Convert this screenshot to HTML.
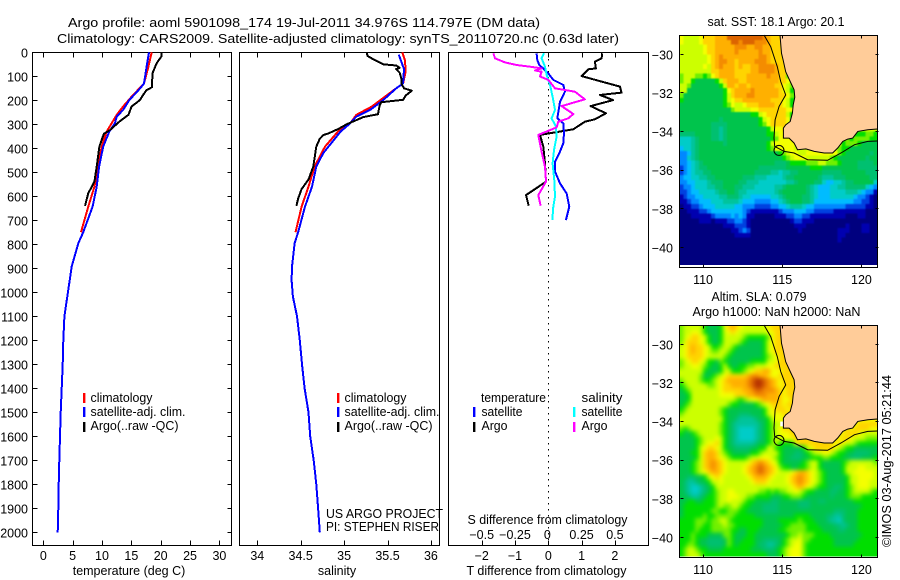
<!DOCTYPE html>
<html lang="en">
<head>
<meta charset="utf-8">
<title>Argo profile 5901098_174</title>
<style>
html,body{margin:0;padding:0;background:#fff;}
svg{display:block;}
text{font-family:"Liberation Sans",sans-serif;font-size:12.5px;fill:#000;}
.frame{fill:none;stroke:#000;stroke-width:1;shape-rendering:crispEdges;}
.tick{stroke:#000;stroke-width:1;shape-rendering:crispEdges;}
.prof{fill:none;stroke-width:2;shape-rendering:crispEdges;stroke-linejoin:round;}
.mid{text-anchor:middle;}
.end{text-anchor:end;}
</style>
</head>
<body>
<svg id="chart" xmlns="http://www.w3.org/2000/svg" width="900" height="580" viewBox="0 0 900 580">
  <defs>
    <filter id="blurSst" filterUnits="userSpaceOnUse" x="660" y="20" width="240" height="270" color-interpolation-filters="sRGB"><feGaussianBlur stdDeviation="0.7"/></filter>
    <filter id="blurSla" filterUnits="userSpaceOnUse" x="660" y="310" width="240" height="270" color-interpolation-filters="sRGB"><feGaussianBlur stdDeviation="2"/></filter>
    <clipPath id="clipSst"><rect x="679.5" y="35.5" width="198" height="231"/></clipPath>
    <clipPath id="clipSla"><rect x="679.5" y="325.5" width="198" height="231"/></clipPath>
  </defs>
  <rect x="0" y="0" width="900" height="580" fill="#fff"/>
  <text x="68" y="27" textLength="472" lengthAdjust="spacingAndGlyphs">Argo profile: aoml 5901098_174 19-Jul-2011 34.976S 114.797E (DM data)</text>
  <text x="57" y="43" textLength="562" lengthAdjust="spacingAndGlyphs">Climatology: CARS2009. Satellite-adjusted climatology: synTS_20110720.nc (0.63d later)</text>

  <g id="mapLayer1"></g>
  <g id="mapLayer2"></g>
  <g id="p1"></g>
  <g id="p2"></g>
  <g id="p3"></g>

  <rect x="83" y="393" width="2.4" height="10" fill="#f00"/>
  <rect x="83" y="407" width="2.4" height="10" fill="#00f"/>
  <rect x="83" y="422" width="2.4" height="10" fill="#000"/>
  <text x="90.5" y="402" textLength="62" lengthAdjust="spacingAndGlyphs">climatology</text>
  <text x="90.5" y="416" textLength="95" lengthAdjust="spacingAndGlyphs">satellite-adj. clim.</text>
  <text x="90.5" y="430" textLength="88" lengthAdjust="spacingAndGlyphs">Argo(..raw -QC)</text>

  <rect x="337" y="393" width="2.4" height="10" fill="#f00"/>
  <rect x="337" y="407" width="2.4" height="10" fill="#00f"/>
  <rect x="337" y="422" width="2.4" height="10" fill="#000"/>
  <text x="344.5" y="402" textLength="62" lengthAdjust="spacingAndGlyphs">climatology</text>
  <text x="344.5" y="416" textLength="95" lengthAdjust="spacingAndGlyphs">satellite-adj. clim.</text>
  <text x="344.5" y="430" textLength="88" lengthAdjust="spacingAndGlyphs">Argo(..raw -QC)</text>

  <text x="326" y="518" textLength="117" lengthAdjust="spacingAndGlyphs">US ARGO PROJECT</text>
  <text x="326" y="531" textLength="113" lengthAdjust="spacingAndGlyphs">PI: STEPHEN RISER</text>

  <text x="481" y="402" textLength="65" lengthAdjust="spacingAndGlyphs">temperature</text>
  <text x="581.5" y="402" textLength="41" lengthAdjust="spacingAndGlyphs">salinity</text>
  <rect x="473" y="407" width="2.4" height="10" fill="#00f"/>
  <rect x="473" y="422" width="2.4" height="10" fill="#000"/>
  <rect x="573" y="407" width="2.4" height="10" fill="#0ff"/>
  <rect x="573" y="422" width="2.4" height="10" fill="#f0f"/>
  <text x="481.5" y="416" textLength="41" lengthAdjust="spacingAndGlyphs">satellite</text>
  <text x="481.5" y="430" textLength="26" lengthAdjust="spacingAndGlyphs">Argo</text>
  <text x="581.5" y="416" textLength="41" lengthAdjust="spacingAndGlyphs">satellite</text>
  <text x="581.5" y="430" textLength="26" lengthAdjust="spacingAndGlyphs">Argo</text>

  <text x="467.5" y="524" textLength="160" lengthAdjust="spacingAndGlyphs">S difference from climatology</text>
  <text x="129" y="575" class="mid">temperature (deg C)</text>
  <text x="337" y="575" class="mid">salinity</text>
  <text x="466.5" y="575" textLength="160" lengthAdjust="spacingAndGlyphs">T difference from climatology</text>

  <text x="707.5" y="26" textLength="137" lengthAdjust="spacingAndGlyphs">sat. SST: 18.1 Argo: 20.1</text>
  <text x="711.5" y="301" textLength="95" lengthAdjust="spacingAndGlyphs">Altim. SLA: 0.079</text>
  <text x="692.5" y="316" textLength="168" lengthAdjust="spacingAndGlyphs">Argo h1000: NaN h2000: NaN</text>
  <text transform="translate(891,547) rotate(-90)" textLength="172" lengthAdjust="spacingAndGlyphs">©IMOS 03-Aug-2017 05:21:44</text>
</svg>

<script>
// ---------- profile chart data ----------
const depthTicks = [0,100,200,300,400,500,600,700,800,900,1000,1100,1200,1300,1400,1500,1600,1700,1800,1900,2000];
const tempTicks = [0,5,10,15,20,25,30];
const salTicks = [34,34.5,35,35.5,36];
const tDiffTicks = [-2,-1,0,1,2];
const sDiffTicks = [-0.5,-0.25,0,0.25,0.5];
const sDiffLabels = ["−0.5","−0.25","0","0.25","0.5"];
const lonTicks = [110,115,120];
const latTicks = [-30,-32,-34,-36,-38,-40];

const tempClimDepth = [0,60,130,185,226,261,330,393,476,560,643,750];
const tempClimValue = [18.46,17.9,17.15,15.05,13.6,12.5,10.8,9.95,9.37,8.7,7.67,6.42];
const tempSatDepth = [0,60,130,150,199,240,268,296,330,393,476,560,643,750,796,893,1018,1100,1200,1300,1400,1500,1600,1700,1800,1900,2000];
const tempSatValue = [18.0,17.6,17.15,16.5,14.65,13.6,12.5,12.2,11.25,10.2,9.5,9.1,8.4,6.8,5.96,4.84,4.09,3.6,3.4,3.3,3.13,2.96,2.85,2.73,2.62,2.56,2.45];
const tempArgoDepth = [0,18,46,87,146,157,178,199,226,261,289,324,340,393,476,539,587,640];
const tempArgoValue = [20.1,20.1,19.3,18.6,18.5,17.6,17.0,16.45,15.05,14.5,12.95,11.35,10.3,9.55,9.1,8.7,7.67,7.1];

const salClimDepth = [0,32,80,130,150,185,226,261,296,330,393,476,560,643,750];
const salClimValue = [35.67,35.70,35.71,35.68,35.6,35.47,35.32,35.14,35.07,34.93,34.78,34.66,34.59,34.51,34.44];
const salSatDepth = [10,40,70,130,150,199,240,268,296,330,393,420,476,560,643,750,796,893,950,1018,1100,1200,1300,1400,1500,1600,1700,1800,1900,2000];
const salSatValue = [35.63,35.66,35.69,35.68,35.6,35.45,35.3,35.14,35.07,34.96,34.82,34.76,34.68,34.63,34.55,34.47,34.43,34.40,34.395,34.41,34.457,34.49,34.515,34.545,34.59,34.61,34.65,34.68,34.70,34.72];
const salArgoDepth = [0,15,30,50,55,65,70,85,110,130,150,160,180,198,208,220,258,270,300,320,338,345,360,393,476,530,570,610,640];
const salArgoValue = [35.26,35.27,35.34,35.45,35.6,35.64,35.6,35.64,35.66,35.66,35.69,35.78,35.71,35.68,35.43,35.41,35.39,35.22,35.03,34.93,34.82,34.76,34.72,34.68,34.645,34.59,34.51,34.47,34.45];

const dTSatDepth = [4,32,53,74,88,115,136,164,206,233,275,296,337,379,421,456,497,546,588,643,699];
const dTSatValue = [-0.35,-0.33,-0.27,-0.10,0,0.15,0.45,0.50,0.35,0.32,0.27,0.45,0.47,0.45,0.33,0.20,0.20,0.35,0.55,0.63,0.53];
const dTArgoDepth = [4,25,39,67,71,99,143,168,178,199,224,254,279,289,321,344,393,463,539,595,639];
const dTArgoValue = [1.62,1.60,1.40,1.43,1.20,1.00,2.15,2.20,1.55,1.95,1.27,1.73,1.40,1.10,0.75,-0.25,-0.15,-0.10,-0.07,-0.67,-0.59];
const dSSatDepth = [4,25,60,94,136,185,240,275,310,352,407,463,533,601,643,699];
const dSSatValue = [-0.0325,-0.05,-0.025,-0.0125,0.0125,0.0325,0.05,0.025,0.0575,0.0625,0.0425,0.0325,0.045,0.05,0.0375,0.03];
const dSArgoDepth = [4,25,42,53,60,67,76,81,101,115,150,164,196,224,257,275,289,313,344,414,477,539,595,639];
const dSArgoValue = [-0.4125,-0.40,-0.325,-0.2375,-0.1375,-0.05,-0.10,-0.05,-0.0625,0,0.05,0.20,0.275,0.10,0.1875,0.15,0.075,0.0625,-0.075,-0.05,-0.025,-0.0175,-0.075,-0.0575];

// ---------- map data ----------
const coastLon = [114.86,114.95,115.05,115.22,115.5,115.75,115.79,115.69,115.64,115.5,115.22,115.07,115.07,115.43,115.75,115.96,116.49,117.02,117.65,118.18,118.5,118.82,119.13,119.45,119.77,120.4,121];
const coastLat = [-29,-29.95,-30.29,-30.9,-31.41,-31.84,-32.22,-32.62,-33.05,-33.48,-33.65,-33.82,-34.34,-34.34,-34.6,-34.94,-34.9,-35.03,-35.11,-35.11,-34.85,-34.51,-34.39,-34.34,-33.99,-33.91,-33.87];
const isoLon = [113.85,114.27,114.69,114.9,115.22,114.8,114.55,114.48,114.52,115.12,115.75,116.6,117.86,118.71,119.56,120.4,121];
const isoLat = [-29,-29.6,-30.64,-31.41,-32.1,-32.7,-33.39,-34.34,-34.77,-35.03,-35.11,-35.46,-35.49,-35.11,-34.68,-34.51,-34.49];
const floatLon = 114.797;
const floatLat = -34.976;

// each character is one 0.25 degree cell, colour class in levelColors; '.' is land
const levelColors = {'0':'#00007f','1':'#0000b0','2':'#0040e0','3':'#0088ff','4':'#00bcff','5':'#00ccc8','6':'#00c49c','7':'#00c070','8':'#00c44c','9':'#00de00','a':'#70f000','b':'#ccff00','c':'#f4ff00','d':'#ffd400','e':'#ffb000','f':'#f48c00','g':'#dc6400','h':'#b83400','w':'#ffffff'};
const sstRows = [
"cbbbbcdddeeegggggggggfeddd",
"cbbbbcdddeeeeggfgggfffeddd",
"bbbbbbcddeeeeefffeeffeeddd",
"bbbbbbcddeeeeefeeeeefeeddd",
"bbbbbbbcdefeeeeeeeeeffedddd",
"bbbbbbbcdeffeedeeeefffedddd",
"bbbbbbcbdefeeededdeeffffeddd",
"bbbbbbbbddeeeeddddeeffffeddd",
"abbbaa9acdeeeedddeeeeefeedda",
"abb9888889bdeeeddeeeeeeeeddca",
"bba88888889beedeedeeeeeeddcba",
"bb8888888889cdeeeefeeeeeedcb9a",
"a88888888889bdeeeffeeeeeeddca9",
"988888888889bcddeeeeeeedddcb99",
"888888888889acbbcdddeeeeddcb9a",
"8888888888888abbbbccdddddddcc9",
"88888888888888888899bcdddddb9ab",
"888888888878888888889bcddddc89a",
"888888887777888888889acddddc8w",
"88888888776788888888889bccdcbw",
"777788887767888888888899bcccdc..............999aa9",
"555678887767888888888889acccca.............9aaaa99",
"55567888888788888888889bcccccc...........9aaa98888",
"45567888888888888888889acccccb..........a998888888",
"33467888888888888888888889abccbbc.......a9888888787",
"335678888888888888888888889abcccbbbbbba9888888878",
"33456788888888888888888877789999aaabbaaa98888777787",
"23456778888888888888777777788888899988888888877777",
"23456677888888888887777665667788888877777888888777",
"34455667788888887776665555677888888766677788888877",
"33445556777888877666555555566788887754455677888885",
"23345556677888776665555566788888765444556677777543",
"22344555567788766555555567888888765444555566654331",
"12334455556677765544444556788887765444555555433210",
"11233444555666654443333445678887764444444444332210",
"01122344455555443332222334456665443333333322222110",
"00111223444444443211111112333444332222211111111000",
"00011111233334343110000011122332211111111100011000",
"00000111011122332100000000001221110000000000000000",
"00000000000111222100000000000111000000000010001100",
"00000000000001123200000000000010000000001110001100",
"00000000000000111100000000000000000000001100000000",
"00000000000000000000000000000000000000001000000000",
"00000000000000000000000000000000000000000000000000",
"00000000000000000000000000000000000000000000000000",
"00000000000000000000000000000000000000000000000000",
"00000000000000000000000000000000000000000000000000",
"00000000000000000000000000000000000000000000000000"
];
const slaRows = [
"abbbbb98889cdedcbbbbbbcddd",
"abbccb98889bcdcbbbbbbbccdd",
"abcddcb9889bbbbba99999acdd",
"acdddcb9889bbbba988889bcdd",
"bcdeddcb99abba98888889bcdd",
"bcdeddcbaabba988888889bcddd",
"bcddddcbbbba9888888889abcdd",
"abcddcb998a98888889999bbcddd",
"abbccba9889b98899aabbbccdddd",
"bbbbbb98889bb999abcddeecccddd",
"bbbbba889abcdddddeffeedccddddd",
"abbbba99abcdeeeeefghhgfedcdddd",
"9abbbbbaabcddeeeefghhgfedcdddd",
"89abbbbbbbcdddddeefggfffedcddd",
"889bbbbbbbccccdddeefffeeedcdd",
"889bbbbbbbbbbba9abccdeeeedccdd",
"89abbbbbbbbba9988889abcdddcddd",
"9abbbbbbbba98888888889bcdddcd",
"abbbbbbbbba98887778889bcccdd",
"bbbbbbbbbbb988766667889bcccw",
"bbbbbbbbbba987666666789abw..................cddddd",
"a9abbbbbbba987655556789abcd................cddddcc",
"9889abbbbba987655556789abcccd............cdddcbbbb",
"88889abbbcb987655556789abbcccd..........cddcbbbaaa",
"88889abccdb987666667889ab9999cdd.......cdcbba99999",
"88889bcddcb98877778899bb99888889bcdddddcba99888888",
"88899bdeedba988888 99abbbb9888778".replace(' ','')+"9abbccba9988777788",
"88889bdeedcba9999abbcccba9887778"+"8999aa999887778889",
"8889abdefedcbbbbbcdefedcb9888889abb9888889abbbbbba",
"8889abdefedcbbbbcdefgfedca998899abb9888889bbbccbbb",
"8889abcdeedcbbbbcdefgfedcbbbcdeedcba988889bbcccccb",
"8877889bcdcbbbbbbcdeeedcbbbcdefedcba9888889bbccccb",
"87667889bbcbbbbbbbcdddcbbbbcdefedcba9888889bbcccbb",
"876556789bbbbbbbbbbbbbbbbbbbcdedcba99887789abcccbb",
"876556789abbccbbbbbbaa9a9aabbcba99888877889abbbba9",
"887667899abbcccbbaa999988899aaa988888878889aaa9999",
"889988999abbcbbba998888778888877788778888888999999",
"899999999abaabba99888777788888777888888888888899999",
"89999999aa99aaa99888877778888888888888877788899999",
"899999a99aaaaa99999888888888899998888776678889999",
"9999aaa9aabba99999999888899999a9998887665788899999",
"9999aa99aaabaa99999998888899aaaa9998888776788999999",
"9999a999aaaaa99889998888899aaaaa9999888877888999999",
"999a9998888aa988899888888889aabaaa9999888888889999",
"999a98877778a98899988777789abbcaa999999888888999999",
"99aa98877778a98999987766789abcca99999998888899999",
"9abba998888999999988877789abccca999999999999999999",
"9abbba99999999999999998889abccca999999999999999999"
];

const NS = 'http://www.w3.org/2000/svg';

const panelTop = 52.5;
const panelBottom = 545.5;
function yDepth(d){ return 52.3 + d * 0.24; }
function xTemp(v){ return 43.3 + v * 5.87; }
function xSal(v){ return 257.3 + (v - 34) * 86.8; }
function xTDiff(v){ return 548.3 + v * 33.3; }
function xSDiff(v){ return 548.3 + v * 133.2; }

function mk(parent, tag){
  const el = document.createElementNS(NS, tag);
  parent.appendChild(el);
  return el;
}
function drawTick(parent, x1, y1, x2, y2){
  const el = mk(parent, 'line');
  
  
  el.setAttribute('class', 'tick');
  el.setAttribute('x1', Math.round(x1) + 0.5);
  el.setAttribute('y1', Math.round(y1 - 0.5) + 0.5);
  el.setAttribute('x2', Math.round(x2) + 0.5);
  el.setAttribute('y2', Math.round(y2 - 0.5) + 0.5);
}
function drawLabel(parent, str, x, y, cls){
  const el = mk(parent, 'text');
  
  
  el.setAttribute('x', x);
  el.setAttribute('y', y);
  if (cls) el.setAttribute('class', cls);
  el.textContent = str;
}
function drawFrame(parent, x, y, w, h){
  const el = mk(parent, 'rect');
  
  
  el.setAttribute('class', 'frame');
  el.setAttribute('x', x);
  el.setAttribute('y', y);
  el.setAttribute('width', w);
  el.setAttribute('height', h);
}
function drawProfile(parent, values, depths, xFn, color, name){
  const el = mk(parent, 'polyline');
  
  
  el.setAttribute('class', 'prof');
  el.setAttribute('stroke', color);
  el.setAttribute('points', values.map(function(v, i){
    return xFn(v).toFixed(1) + ',' + yDepth(depths[i]).toFixed(1);
  }).join(' '));
}

// temperature panel
const p1 = document.getElementById('p1');
drawFrame(p1, 32.5, panelTop, 199, panelBottom - panelTop);
depthTicks.forEach(function(d){
  const y = yDepth(d);
  drawTick(p1, 32, y, 37, y);
  drawTick(p1, 227, y, 231, y);
  drawLabel(p1, String(d), 28, y + 5, 'end');
});
tempTicks.forEach(function(t){
  const x = xTemp(t);
  drawTick(p1, x, 52.5, x, 57.5);
  drawTick(p1, x, 540.5, x, 545.5);
  drawLabel(p1, String(t), x, 560, 'mid');
});
drawProfile(p1, tempClimValue, tempClimDepth, xTemp, '#f00', 'temperature-climatology-line');
drawProfile(p1, tempSatValue, tempSatDepth, xTemp, '#00f', 'temperature-satellite-line');
drawProfile(p1, tempArgoValue, tempArgoDepth, xTemp, '#000', 'temperature-argo-line');

// salinity panel
const p2 = document.getElementById('p2');
drawFrame(p2, 239.5, panelTop, 200, panelBottom - panelTop);
salTicks.forEach(function(s){
  const x = xSal(s);
  drawTick(p2, x, 52.5, x, 57.5);
  drawTick(p2, x, 540.5, x, 545.5);
  drawLabel(p2, String(s), x, 560, 'mid');
});
drawProfile(p2, salClimValue, salClimDepth, xSal, '#f00', 'salinity-climatology-line');
drawProfile(p2, salSatValue, salSatDepth, xSal, '#00f', 'salinity-satellite-line');
drawProfile(p2, salArgoValue, salArgoDepth, xSal, '#000', 'salinity-argo-line');

// difference panel
const p3 = document.getElementById('p3');
drawFrame(p3, 448.5, panelTop, 200, panelBottom - panelTop);
tDiffTicks.forEach(function(t){
  const x = xTDiff(t);
  drawTick(p3, x, 52.5, x, 57.5);
  drawTick(p3, x, 540.5, x, 545.5);
  drawLabel(p3, String(t).replace('-', '−'), x, 560, 'mid');
});
sDiffTicks.forEach(function(s, i){
  drawLabel(p3, sDiffLabels[i], xSDiff(s) - (i === 2 ? 1 : 0), 539, 'mid');
});
const zeroLine = mk(p3, 'line');


zeroLine.setAttribute('x1', 548.5);
zeroLine.setAttribute('x2', 548.5);
zeroLine.setAttribute('y1', 53);
zeroLine.setAttribute('y2', 540);
zeroLine.setAttribute('stroke', '#000');
zeroLine.setAttribute('stroke-width', 1);
zeroLine.setAttribute('stroke-dasharray', '1.5 4.5');
zeroLine.setAttribute('shape-rendering', 'crispEdges');
drawProfile(p3, dTArgoValue, dTArgoDepth, xTDiff, '#000', 'difference-t-argo-line');
drawProfile(p3, dTSatValue, dTSatDepth, xTDiff, '#00f', 'difference-t-satellite-line');
drawProfile(p3, dSSatValue, dSSatDepth, xSDiff, '#0ff', 'difference-s-satellite-line');
drawProfile(p3, dSArgoValue, dSArgoDepth, xSDiff, '#f0f', 'difference-s-argo-line');

// maps
function drawMap(layer, rows, top, cellName, filterId, clipId){
  const left = 679.3, w = 198, h = 231.7;
  const cellW = w / 50, cellH = h / 48;
  function xLon(lon){ return left + (lon - 108.5) * 15.84; }
  function yLat(lat){ return top + (-29 - lat) * 19.31; }

  const clipGroup = mk(layer, 'g');
  
  
  clipGroup.setAttribute('clip-path', 'url(#' + clipId + ')');
  const cellGroup = mk(clipGroup, 'g');
  
  
  cellGroup.setAttribute('filter', 'url(#' + filterId + ')');

  rows.forEach(function(row, r){
    let last = row.charAt(0);
    for (let c = 0; c < 50; c++) {
      let ch = row.charAt(c);
      if (!ch || ch === '.' || ch === 'w') ch = last; else last = ch;
      let cx = left + c * cellW, cy = top + r * cellH, cw = cellW + 0.4, ch2 = cellH + 0.4;
      if (c === 0) { cx -= 8; cw += 8; }
      if (c === 49) { cw += 8; }
      if (r === 0) { cy -= 8; ch2 += 8; }
      if (r === rows.length - 1) { ch2 += 8; }
      const cell = mk(cellGroup, 'rect');
      
      
      cell.setAttribute('x', cx.toFixed(2));
      cell.setAttribute('y', cy.toFixed(2));
      cell.setAttribute('width', cw.toFixed(2));
      cell.setAttribute('height', ch2.toFixed(2));
      cell.setAttribute('fill', levelColors[ch]);
      cell.setAttribute('shape-rendering', 'crispEdges');
    }
  });

  rows.forEach(function(row, r){
    for (let c = 0; c < row.length; c++) {
      if (row.charAt(c) !== 'w') continue;
      const spot = mk(clipGroup, 'rect');
      
      
      spot.setAttribute('x', (left + c * cellW + cellW / 2).toFixed(2));
      spot.setAttribute('y', (top + r * cellH).toFixed(2));
      spot.setAttribute('width', (cellW / 2 + 1).toFixed(2));
      spot.setAttribute('height', cellH.toFixed(2));
      spot.setAttribute('fill', '#fff');
    }
  });

  const pts = coastLon.map(function(lon, i){
    return xLon(lon).toFixed(1) + ',' + yLat(coastLat[i]).toFixed(1);
  });
  const landPoly = mk(layer, 'polygon');
  
  
  landPoly.setAttribute('points', pts.join(' ') + ' ' + xLon(121).toFixed(1) + ',' + yLat(-29).toFixed(1));
  landPoly.setAttribute('fill', '#ffcc99');

  const coast = mk(layer, 'polyline');
  
  
  coast.setAttribute('points', pts.join(' '));
  coast.setAttribute('fill', 'none');
  coast.setAttribute('stroke', '#000');
  coast.setAttribute('stroke-width', 1);

  const iso = mk(layer, 'polyline');
  
  
  iso.setAttribute('points', isoLon.map(function(lon, i){
    return xLon(lon).toFixed(1) + ',' + yLat(isoLat[i]).toFixed(1);
  }).join(' '));
  iso.setAttribute('fill', 'none');
  iso.setAttribute('stroke', '#000');
  iso.setAttribute('stroke-width', 1);

  const marker = mk(layer, 'circle');
  
  
  marker.setAttribute('cx', xLon(floatLon).toFixed(1));
  marker.setAttribute('cy', yLat(floatLat).toFixed(1));
  marker.setAttribute('r', 5);
  marker.setAttribute('fill', 'none');
  marker.setAttribute('stroke', '#000');
  marker.setAttribute('stroke-width', 1);

  const bottom = Math.round(top + h);
  if (cellName === 'sst-cell') {
    const noDataStrip = mk(layer, 'rect');
    
    
    noDataStrip.setAttribute('x', 680);
    noDataStrip.setAttribute('y', 265);
    noDataStrip.setAttribute('width', 197);
    noDataStrip.setAttribute('height', 2);
    noDataStrip.setAttribute('fill', '#fff');
  }
  drawFrame(layer, 679.5, top + 0.5, 198, bottom - top);
  lonTicks.forEach(function(lon){
    const x = xLon(lon);
    drawTick(layer, x, top + 0.5, x, top + 3.5);
    drawTick(layer, x, bottom - 2.5, x, bottom + 0.5);
    drawLabel(layer, String(lon), x, bottom + 17, 'mid');
  });
  latTicks.forEach(function(lat){
    const y = yLat(lat);
    drawTick(layer, 679.5, y, 682.5, y);
    drawTick(layer, 874.5, y, 877.5, y);
    drawLabel(layer, String(lat).replace('-', '−'), 673, y + 5, 'end');
  });
}
drawMap(document.getElementById('mapLayer1'), sstRows, 35, 'sst-cell', 'blurSst', 'clipSst');
drawMap(document.getElementById('mapLayer2'), slaRows, 325, 'sla-cell', 'blurSla', 'clipSla');
</script>
</body>
</html>
